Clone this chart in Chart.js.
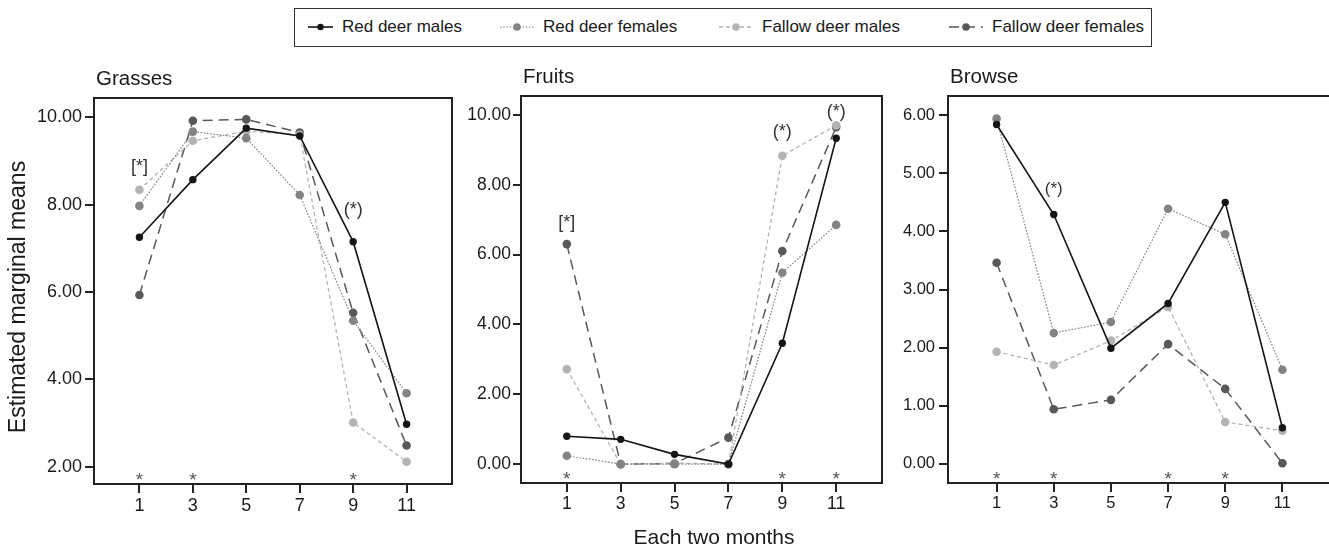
<!DOCTYPE html>
<html>
<head>
<meta charset="utf-8">
<title>Estimated marginal means</title>
<script src="https://cdn.jsdelivr.net/npm/chart.js@4.4.1/dist/chart.umd.min.js"></script>
<style>
  html, body { margin: 0; padding: 0; background: #fff; overflow: hidden; }
  #page {
    position: relative;
    width: 1329px;
    height: 548px;
    overflow: hidden;
    font-family: "Liberation Sans", Arial, sans-serif;
    color: #1a1a1a;
  }
  .panel { position: absolute; top: 50px; }
  #legend {
    position: absolute;
    left: 294px;
    top: 8px;
    width: 858px;
    height: 39px;
    box-sizing: border-box;
    border: 1.5px solid #333;
  }
  .item {
    position: absolute;
    top: 0;
    height: 36px;
    display: flex;
    align-items: center;
    font-size: 17px;
    white-space: nowrap;
  }
  .item canvas { margin-right: 9px; }
</style>
</head>
<body>
<div id="page">
  <div id="legend"></div>
  <canvas id="grasses" class="panel" width="460" height="498" style="left:0px"></canvas>
  <canvas id="fruits" class="panel" width="440" height="498" style="left:460px"></canvas>
  <canvas id="browse" class="panel" width="440" height="498" style="left:900px"></canvas>
</div>
<script>
// x categories (each two months)
const months = [1, 3, 5, 7, 9, 11];
const seriesNames = ["Red deer males", "Red deer females", "Fallow deer males", "Fallow deer females"];

// Grasses
const grassRedMales = [7.25, 8.57, 9.75, 9.57, 7.15, 2.97];
const grassRedFemales = [7.97, 9.67, 9.52, 8.22, 5.34, 3.68];
const grassFallowMales = [8.34, 9.46, 9.68, 9.60, 3.01, 2.11];
const grassFallowFemales = [5.93, 9.92, 9.95, 9.65, 5.52, 2.48];

// Fruits
const fruitRedMales = [0.80, 0.71, 0.28, 0.00, 3.46, 9.33];
const fruitRedFemales = [0.24, 0.00, 0.00, 0.00, 5.48, 6.85];
const fruitFallowMales = [2.72, 0.00, 0.03, 0.00, 8.83, 9.70];
const fruitFallowFemales = [6.30, 0.00, 0.02, 0.76, 6.10, 9.65];

// Browse
const browseRedMales = [5.84, 4.29, 1.99, 2.76, 4.50, 0.62];
const browseRedFemales = [5.94, 2.25, 2.44, 4.39, 3.95, 1.62];
const browseFallowMales = [1.93, 1.70, 2.12, 2.70, 0.72, 0.57];
const browseFallowFemales = [3.46, 0.94, 1.10, 2.06, 1.29, 0.01];

// y tick labels
const grassTicks = [2, 4, 6, 8, 10];
const fruitTicks = [0, 2, 4, 6, 8, 10];
const browseTicks = [0, 1, 2, 3, 4, 5, 6];

// significance asterisks under the points
const grassStars = [1, 3, 9];
const fruitStars = [1, 9, 11];
const browseStars = [1, 3, 7, 9];

// bracket notes: month, value where the note sits, text
const grassNotes = [[1, 8.87, "[*]"], [9, 7.88, "(*)"]];
const fruitNotes = [[1, 6.90, "[*]"], [9, 9.52, "(*)"], [11, 10.09, "(*)"]];
const browseNotes = [[3, 4.72, "(*)"]];

// series styles
const seriesColors = ["#151515", "#838383", "#b4b4b4", "#585858"];
const seriesDashes = [[], [1.6, 1.6], [4, 3], [10, 6]];
const seriesWidths = [1.6, 1.2, 1.3, 1.5];
const pointSizes = [3.7, 4.3, 4.3, 4.3];

const FONT = '"Liberation Sans", Arial, sans-serif';
Chart.defaults.font.family = FONT;
Chart.defaults.color = "#1a1a1a";

function makeDatasets(values) {
  return values.map((vals, i) => ({
    label: seriesNames[i],
    data: months.map((m, j) => ({ x: m, y: vals[j] })),
    borderColor: seriesColors[i],
    backgroundColor: seriesColors[i],
    borderWidth: seriesWidths[i],
    borderDash: seriesDashes[i],
    pointRadius: pointSizes[i],
    pointBorderWidth: 0,
    tension: 0,
    clip: false,
  }));
}

// frame, panel title, notes and asterisks
const panelDecor = {
  id: "panelDecor",
  afterDraw(chart, args, o) {
    const { ctx, chartArea: a } = chart;
    const x = chart.scales.x, y = chart.scales.y;
    ctx.save();
    ctx.strokeStyle = "#222";
    ctx.lineWidth = 2;
    ctx.strokeRect(a.left, a.top, a.right - a.left, a.bottom - a.top);

    ctx.fillStyle = "#1a1a1a";
    ctx.font = o.titleSize + "px " + FONT;
    ctx.textAlign = "left";
    ctx.textBaseline = "middle";
    ctx.fillText(o.title, a.left + 2, a.top - 19);

    ctx.fillStyle = "#333";
    ctx.font = o.noteSize + "px " + FONT;
    ctx.textAlign = "center";
    o.notes.forEach(n => {
      ctx.fillText(n[2], x.getPixelForValue(n[0]), y.getPixelForValue(n[1]));
    });

    const starSize = 19;
    ctx.fillStyle = "#555";
    ctx.font = starSize + "px " + FONT;
    ctx.textBaseline = "alphabetic";
    o.stars.forEach(m => ctx.fillText("*", x.getPixelForValue(m), a.bottom - 9 + 0.57 * starSize));

    ctx.fillStyle = "#1a1a1a";
    if (o.yLabel) {
      ctx.save();
      ctx.translate(19, (a.top + a.bottom) / 2 + 6);
      ctx.rotate(-Math.PI / 2);
      ctx.font = "23px " + FONT;
      ctx.textBaseline = "middle";
      ctx.fillText(o.yLabel, 0, 0);
      ctx.restore();
    }
    if (o.xLabel) {
      ctx.font = "21px " + FONT;
      ctx.textBaseline = "middle";
      ctx.fillText(o.xLabel, o.xLabelX, a.bottom + 55);
    }
    ctx.restore();
  }
};

function makePanel(id, p) {
  return new Chart(document.getElementById(id), {
    type: "line",
    data: { datasets: makeDatasets(p.series) },
    options: {
      responsive: false,
      animation: false,
      layout: { padding: p.padding },
      plugins: {
        legend: { display: false },
        tooltip: { enabled: false },
        panelDecor: p.decor,
      },
      scales: {
        x: {
          type: "linear",
          min: -0.7,
          max: 12.7,
          afterBuildTicks: s => { s.ticks = months.map(v => ({ value: v })); },
          afterFit: s => { s.height = p.xAxisHeight; },
          grid: { drawOnChartArea: false, tickLength: 9, color: "#222", lineWidth: 2 },
          border: { display: false },
          ticks: { font: { size: p.tickSize }, color: "#1a1a1a", padding: 2, maxRotation: 0 },
        },
        y: {
          type: "linear",
          min: p.yMin,
          max: p.yMax,
          afterBuildTicks: s => { s.ticks = p.ticks.map(v => ({ value: v })); },
          afterFit: s => { s.width = p.yAxisWidth; },
          grid: { drawOnChartArea: false, tickLength: p.tickLength, color: "#222", lineWidth: 2 },
          border: { display: false },
          ticks: {
            font: { size: p.tickSize },
            color: "#1a1a1a",
            padding: p.tickPad,
            callback: v => Number(v).toFixed(2),
          },
        },
      },
    },
    plugins: [panelDecor],
  });
}

makePanel("grasses", {
  series: [grassRedMales, grassRedFemales, grassFallowMales, grassFallowFemales],
  ticks: grassTicks, yMin: 1.6, yMax: 10.44,
  padding: { left: 0, top: 48, right: 8, bottom: 0 },
  yAxisWidth: 94, xAxisHeight: 64, tickSize: 18, tickLength: 9, tickPad: 3,
  decor: { title: "Grasses", titleSize: 20.5, noteSize: 18, notes: grassNotes, stars: grassStars,
           yLabel: "Estimated marginal means" },
});

makePanel("fruits", {
  series: [fruitRedMales, fruitRedFemales, fruitFallowMales, fruitFallowFemales],
  ticks: fruitTicks, yMin: -0.54, yMax: 10.54,
  padding: { left: 0, top: 46, right: 18, bottom: 0 },
  yAxisWidth: 61, xAxisHeight: 65, tickSize: 17.5, tickLength: 8, tickPad: 2,
  decor: { title: "Fruits", titleSize: 20.5, noteSize: 18, notes: fruitNotes, stars: fruitStars,
           xLabel: "Each two months", xLabelX: 254 },
});

makePanel("browse", {
  series: [browseRedMales, browseRedFemales, browseFallowMales, browseFallowFemales],
  ticks: browseTicks, yMin: -0.33, yMax: 6.33,
  padding: { left: 0, top: 46, right: 9, bottom: 0 },
  yAxisWidth: 48, xAxisHeight: 65, tickSize: 16.5, tickLength: 9, tickPad: 4,
  decor: { title: "Browse", titleSize: 20.5, noteSize: 17, notes: browseNotes, stars: browseStars },
});

// legend: line sample with dot, then the series name
const legendLefts = [13, 205, 424, 654];
const legendIconWidths = [25, 34, 34, 34];
const legend = document.getElementById("legend");
seriesNames.forEach((name, i) => {
  const item = document.createElement("div");
  item.className = "item";
  item.style.left = legendLefts[i] + "px";
  const icon = document.createElement("canvas");
  icon.width = legendIconWidths[i];
  icon.height = 12;
  const c = icon.getContext("2d");
  c.strokeStyle = seriesColors[i];
  c.lineWidth = seriesWidths[i];
  c.setLineDash(seriesDashes[i]);
  c.beginPath();
  c.moveTo(0, 6);
  c.lineTo(icon.width, 6);
  c.stroke();
  c.fillStyle = seriesColors[i];
  c.beginPath();
  c.arc(icon.width / 2, 6, pointSizes[i] - 0.5, 0, Math.PI * 2);
  c.fill();
  item.appendChild(icon);
  item.appendChild(document.createTextNode(name));
  legend.appendChild(item);
});
</script>
</body>
</html>
